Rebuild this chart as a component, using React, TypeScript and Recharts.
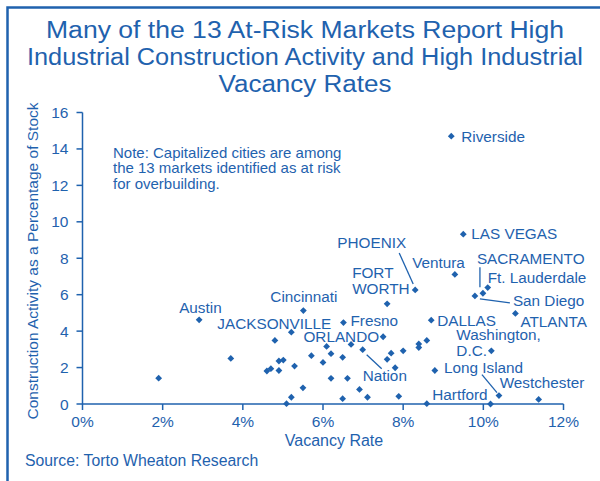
import React from "react";
import { ScatterChart, Scatter, XAxis, YAxis } from "recharts";

const BLUE = "#1f62ae";
const FONT = '"Liberation Sans", Arial, Helvetica, sans-serif';

// Markets with a label on the chart
const markets = [
  "Riverside", "LAS VEGAS", "Ventura", "PHOENIX", "FORT WORTH", "SACRAMENTO",
  "Ft. Lauderdale", "San Diego", "ATLANTA", "DALLAS", "Washington, D.C.",
  "Long Island", "Westchester", "Hartford", "Fresno", "ORLANDO", "Nation",
  "JACKSONVILLE", "Cincinnati", "Austin",
];
const marketVacancy = [
  9.2, 9.5, 9.29, 8.3, 7.6, 9.99, 10.11, 9.79, 10.8, 8.7, 10.2,
  10.39, 11.38, 10.18, 6.51, 7.5, 6.99, 5.21, 5.51, 2.91,
];
const marketConstruction = [
  14.7, 9.32, 7.11, 6.26, 5.5, 6.08, 6.39, 5.93, 4.97, 4.6, 2.92,
  0.46, 0.25, 0.0, 4.47, 3.69, 2.98, 3.94, 5.13, 4.62,
];

// Unlabelled markets
const otherVacancy = [
  1.9, 3.7, 4.8, 6.09, 6.2, 5.71, 6.0, 5.01, 4.9, 5.29, 4.6, 4.7, 4.9, 6.2,
  5.5, 5.21, 5.09, 8.59, 8.39, 8.39, 8.0, 7.7, 7.6, 7.8, 6.7, 6.49, 6.61,
  6.91, 7.11, 6.49, 7.89, 8.59, 8.79,
];
const otherConstruction = [
  1.42, 2.5, 3.49, 3.16, 2.76, 2.65, 2.28, 2.41, 2.36, 2.08, 1.81, 1.94, 1.84,
  1.41, 0.89, 0.37, 0.02, 3.49, 3.3, 3.1, 2.92, 2.79, 2.45, 1.99, 3.27, 2.56,
  1.41, 0.8, 0.37, 0.29, 0.42, 0.02, 1.84,
];

const xTicks = [0, 2, 4, 6, 8, 10, 12];
const yTicks = [0, 2, 4, 6, 8, 10, 12, 14, 16];

const titleLines = [
  "Many of the 13 At-Risk Markets Report High",
  "Industrial Construction Activity and High Industrial",
  "Vacancy Rates",
];
const noteLines = [
  "Note: Capitalized cities are among",
  "the 13 markets identified as at risk",
  "for overbuilding.",
];

// label placement relative to the marker (px)
type Layout = {
  dx: number;
  dy: number;
  anchor: "start" | "end";
  lines?: string[];
  lead?: number[];
};
const labelLayout: Record<string, Layout> = {
  Riverside: { dx: 10, dy: 0, anchor: "start" },
  "LAS VEGAS": { dx: 8, dy: -1, anchor: "start" },
  Ventura: { dx: 10, dy: -12, anchor: "end" },
  PHOENIX: { dx: -9, dy: -47, anchor: "end", lead: [-16, -37, -2, -6] },
  "FORT WORTH": { dx: -35, dy: -31, anchor: "start", lines: ["FORT", "WORTH"] },
  SACRAMENTO: { dx: -6, dy: -35, anchor: "start", lead: [-3, -26, -3, -6] },
  "Ft. Lauderdale": { dx: 0, dy: -10, anchor: "start" },
  "San Diego": { dx: 38, dy: 5, anchor: "start", lead: [5, 3, 35, 7] },
  ATLANTA: { dx: 5, dy: 8, anchor: "start" },
  DALLAS: { dx: 6, dy: 0, anchor: "start" },
  "Washington, D.C.": { dx: -35, dy: -16, anchor: "start", lines: ["Washington,", "D.C."] },
  "Long Island": { dx: -55, dy: -28, anchor: "start", lead: [-17, -21, -2, -3] },
  Westchester: { dx: -39, dy: -17, anchor: "start" },
  Hartford: { dx: -3, dy: -10, anchor: "end" },
  Fresno: { dx: 7, dy: -2, anchor: "start" },
  ORLANDO: { dx: -4, dy: 0, anchor: "end" },
  Nation: { dx: 0, dy: 26, anchor: "start", lead: [4, 5, 19, 19] },
  JACKSONVILLE: { dx: -74, dy: -9, anchor: "start" },
  Cincinnati: { dx: -33, dy: -14, anchor: "start" },
  Austin: { dx: -20, dy: -12, anchor: "start" },
};

const labelled = markets.map((name, i) => ({
  name,
  x: marketVacancy[i],
  y: marketConstruction[i],
}));
const others = otherVacancy.map((x, i) => ({ x, y: otherConstruction[i] }));

const Diamond = ({ cx, cy }: { cx: number; cy: number }) => (
  <polygon
    points={`${cx},${cy - 3.4} ${cx + 3.4},${cy} ${cx},${cy + 3.4} ${cx - 3.4},${cy}`}
    fill={BLUE}
  />
);

const MarketPoint = (props: any) => {
  const { cx, cy, payload } = props;
  const lay = labelLayout[payload.name];
  const lines = lay.lines || [payload.name];
  return (
    <g>
      <Diamond cx={cx} cy={cy} />
      {lay.lead && (
        <line
          x1={cx + lay.lead[0]}
          y1={cy + lay.lead[1]}
          x2={cx + lay.lead[2]}
          y2={cy + lay.lead[3]}
          stroke={BLUE}
          strokeWidth={1.3}
        />
      )}
      {lines.map((t, i) => (
        <text
          key={t}
          x={cx + lay.dx}
          y={cy + lay.dy + i * 16}
          textAnchor={lay.anchor}
          dominantBaseline="central"
          fill={BLUE}
          fontSize={15.3}
          fontFamily={FONT}
        >
          {t}
        </text>
      ))}
    </g>
  );
};

export default function App() {
  return (
    <div
      style={{
        position: "absolute",
        left: 0,
        top: 0,
        width: 600,
        height: 481,
        background: "#fff",
      }}
    >
      <ScatterChart
        width={600}
        height={481}
        margin={{ top: 112.5, right: 36.5, bottom: 47, left: 42.5 }}
      >
        <XAxis
          type="number"
          dataKey="x"
          domain={[0, 12]}
          ticks={xTicks}
          tickFormatter={(v) => `${v}%`}
          height={30}
          tickSize={6}
          tickMargin={6}
          axisLine={{ stroke: BLUE, strokeWidth: 1.5 }}
          tickLine={{ stroke: BLUE, strokeWidth: 1.5 }}
          tick={{ fill: BLUE, fontSize: 15.5, fontFamily: FONT }}
        />
        <YAxis
          type="number"
          dataKey="y"
          domain={[0, 16]}
          ticks={yTicks}
          width={40}
          tickSize={6}
          tickMargin={8}
          axisLine={{ stroke: BLUE, strokeWidth: 1.5 }}
          tickLine={{ stroke: BLUE, strokeWidth: 1.5 }}
          tick={{ fill: BLUE, fontSize: 15.5, fontFamily: FONT }}
        />
        <Scatter
          data={others}
          isAnimationActive={false}
          shape={(p: any) => <Diamond cx={p.cx} cy={p.cy} />}
        />
        <Scatter
          data={labelled}
          isAnimationActive={false}
          shape={(p: any) => <MarketPoint {...p} />}
        />
      </ScatterChart>

      <svg
        width={600}
        height={481}
        style={{ position: "absolute", left: 0, top: 0, pointerEvents: "none" }}
        fontFamily={FONT}
        fill={BLUE}
      >
        <path d="M7.5 481 V7.5 H600" fill="none" stroke={BLUE} strokeWidth={2.5} />
        {titleLines.map((t, i) => (
          <text
            key={t}
            x={305}
            y={38.3 + i * 26.7}
            textAnchor="middle"
            fontSize={23.5}
            textLength={[518, 556, 173][i]}
            lengthAdjust="spacingAndGlyphs"
          >
            {t}
          </text>
        ))}
        {noteLines.map((t, i) => (
          <text key={t} x={113} y={152 + i * 15.5} dominantBaseline="central" fontSize={15}>
            {t}
          </text>
        ))}
        <text
          transform="translate(32 261) rotate(-90)"
          textAnchor="middle"
          dominantBaseline="central"
          fontSize={15.5}
        >
          Construction Activity as a Percentage of Stock
        </text>
        <text x={334} y={440} textAnchor="middle" dominantBaseline="central" fontSize={16}>
          Vacancy Rate
        </text>
        <text x={25} y={460} dominantBaseline="central" fontSize={15.8}>
          Source: Torto Wheaton Research
        </text>
      </svg>
    </div>
  );
}
